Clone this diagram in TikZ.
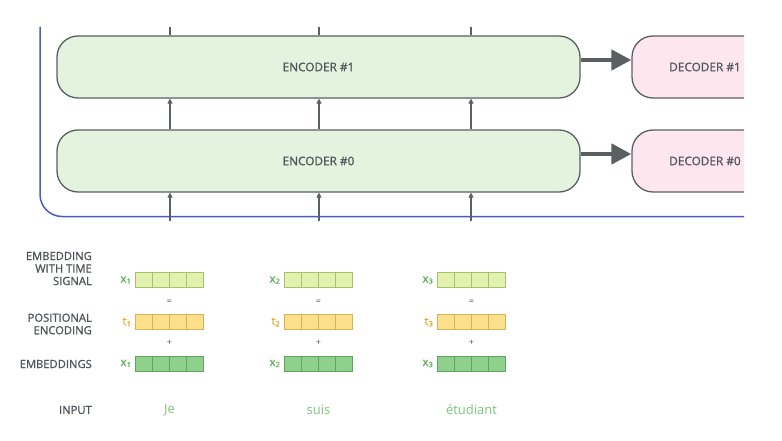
\documentclass[tikz,border=0pt]{standalone}
\usepackage{fontspec}
\setmainfont{Open Sans}
\newfontfamily\capsfont{Open Sans}[FakeBold=1.2]
\usetikzlibrary{arrows.meta,calc}
\definecolor{encfill}{HTML}{E3F3DD}
\definecolor{decfill}{HTML}{FDE6EE}
\definecolor{boxline}{HTML}{5A5F62}
\definecolor{frameblue}{HTML}{4A5BC4}
\definecolor{txtgray}{HTML}{50555A}
\definecolor{sigfill}{HTML}{E2F2AE}
\definecolor{sigline}{HTML}{A3C26E}
\definecolor{posfill}{HTML}{FCE08C}
\definecolor{posline}{HTML}{D7B452}
\definecolor{embfill}{HTML}{8FD08C}
\definecolor{embline}{HTML}{5FA560}
\definecolor{wordgreen}{HTML}{7CC57C}
\definecolor{posorange}{HTML}{E2AE2C}
\definecolor{labgreen}{HTML}{5DB05A}
\tikzset{
  stack/.style={draw=boxline, line width=1.3pt, rounded corners=21pt,
    minimum height=62pt, inner sep=0pt, text=txtgray,
    font=\capsfont\fontsize{11.8}{13}\selectfont},
  encbox/.style={stack, fill=encfill, minimum width=523pt},
  decbox/.style={stack, fill=decfill, minimum width=146pt},
  handoff/.style={draw=boxline, line width=4.5pt,
    -{Triangle[length=20pt,width=20pt]}},
  flow/.style={draw=boxline, line width=1.2pt,
    -{Triangle[length=5pt,width=5pt]}},
  cells/.style={draw=#1line, fill=#1fill, line width=0.9pt,
    minimum width=68pt, minimum height=15pt, inner sep=0pt,
    path picture={\foreach \i in {1,2,3}
      \draw[#1line, line width=0.9pt]
        ($(path picture bounding box.north west)!\i/4!(path picture bounding box.north east)$) --
        ($(path picture bounding box.south west)!\i/4!(path picture bounding box.south east)$);}},
  rowlabel/.style={anchor=east, align=right, text=txtgray, inner sep=0pt,
    font=\capsfont\fontsize{11.2}{12.5}\selectfont},
  veclabel/.style={anchor=east, inner sep=0pt, font=\capsfont\fontsize{11.5}{12}\selectfont},
  op/.style={text=txtgray, inner sep=0pt, font=\fontsize{9}{10}\selectfont},
  word/.style={text=wordgreen, inner sep=0pt, font=\fontsize{13}{15}\selectfont}
}
\newcommand\vsub[2]{#1\kern0.3pt\raisebox{-1pt}{\fontsize{7}{7}\selectfont #2}}
\begin{document}
\begin{tikzpicture}[x=1pt,y=-1pt]
\useasboundingbox (0,0) rectangle (782,441);

% encoder / decoder stack, cut off on the right
\begin{scope}
  \clip (0,0) rectangle (744,441);
  \draw[frameblue, line width=1.5pt, rounded corners=22pt]
    (40,27) -- (40,216.5) -- (760,216.5);
  \node[encbox] (enc1) at (318.5,67) {ENCODER \#1};
  \node[encbox] (enc0) at (318.5,161) {ENCODER \#0};
  \node[decbox] (dec1) at (705,67) {DECODER \#1};
  \node[decbox] (dec0) at (705,161) {DECODER \#0};
\end{scope}

\draw[handoff] ($(enc1.east)+(0,-7)$) -- ($(dec1.west)+(0,-7)$);
\draw[handoff] ($(enc0.east)+(0,-7)$) -- ($(dec0.west)+(0,-7)$);

% column feeds
\foreach \n/\x in {a/170,b/319,c/471}{
  \coordinate (\n in) at (\x,221);
  \coordinate (\n out) at (\x,27);
  \draw[flow] (\n in) -- (\n in |- enc0.south);
  \draw[flow] (\n in |- enc0.north) -- (\n in |- enc1.south);
  \draw[boxline, line width=1.2pt] (\n in |- enc1.north) -- (\n out);
}

% row labels
\node[rowlabel] (lsig) at (92,268.5) {EMBEDDING\\WITH TIME\\SIGNAL};
\node[rowlabel] (lpos) at (92,324) {POSITIONAL\\ENCODING};
\node[rowlabel] (lemb) at (92,364) {EMBEDDINGS};
\node[rowlabel] (linp) at (92,410) {INPUT};

% per-word vectors
\foreach \n/\x/\k/\w in {a/169.5/1/Je,b/318.5/2/suis,c/471.5/3/étudiant}{
  \node[cells=sig] (\n sig) at (\x,280) {};
  \node[cells=pos] (\n pos) at (\x,322) {};
  \node[cells=emb] (\n emb) at (\x,363.5) {};
  \node[veclabel, text=labgreen] (\n sigl) at ($(\n sig.west)+(-4,0)$) {\vsub{x}{\k}};
  \node[veclabel, text=posorange] (\n posl) at ($(\n pos.west)+(-4,0)$) {\vsub{t}{\k}};
  \node[veclabel, text=labgreen] (\n embl) at ($(\n emb.west)+(-4,0)$) {\vsub{x}{\k}};
  \node[op] (\n eq) at (\x,302) {=};
  \node[op] (\n plus) at (\x,343) {+};
  \node[word] (\n word) at (\x,410) {\w};
}
\end{tikzpicture}
\end{document}
